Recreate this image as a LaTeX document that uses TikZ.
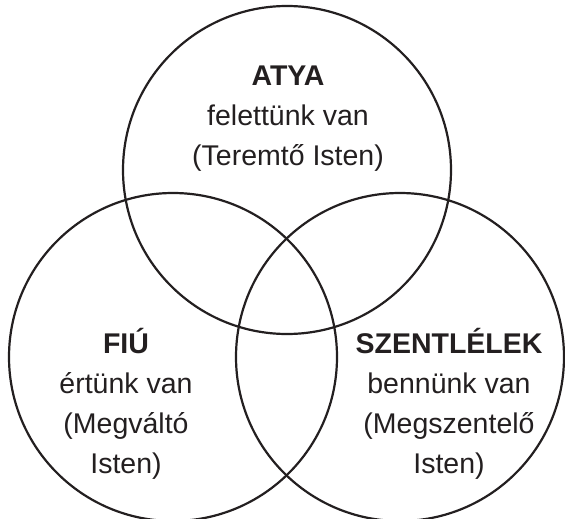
\documentclass[tikz,border=0pt]{standalone}
\usepackage{fontspec}
\setmainfont{Liberation Sans}
\definecolor{ink}{HTML}{231F20}
\begin{document}
\begin{tikzpicture}[x=1pt,y=-1pt,
  ring/.style={draw=ink,line width=2.2pt},
  lab/.style={anchor=base,inner sep=0pt,text=ink,font=\fontsize{28.5}{30}\selectfont},
  head/.style={lab,font=\fontsize{28.5}{30}\selectfont\bfseries}]
\useasboundingbox (0,0) rectangle (565,519);
\draw[ring] (287,170) circle (164);
\draw[ring] (173,357) circle (164);
\draw[ring] (400,357) circle (164);
\node[head] (atya) at (288,85) {ATYA};
\node[lab] (atya2) at (288,125) {felettünk van};
\node[lab] (atya3) at (288,165) {(Teremtő Isten)};
\node[head] (fiu) at (126,353) {FIÚ};
\node[lab] (fiu2) at (126,393) {értünk van};
\node[lab] (fiu3) at (126,433) {(Megváltó};
\node[lab] (fiu4) at (126,473) {Isten)};
\node[head] (szl) at (449,353) {SZENTLÉLEK};
\node[lab] (szl2) at (449,393) {bennünk van};
\node[lab] (szl3) at (449,433) {(Megszentelő};
\node[lab] (szl4) at (449,473) {Isten)};
\end{tikzpicture}
\end{document}
